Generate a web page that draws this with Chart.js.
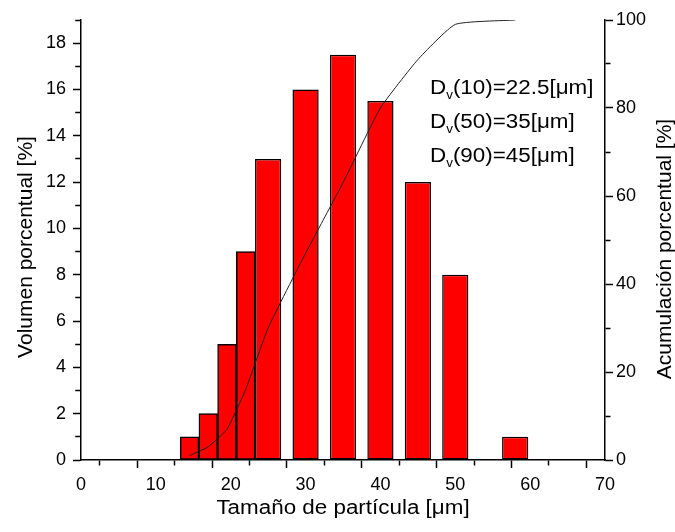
<!DOCTYPE html>
<html>
<head>
<meta charset="utf-8">
<script src="https://cdn.jsdelivr.net/npm/chart.js@4.4.1/dist/chart.umd.min.js"></script>
<style>
  html, body { margin: 0; padding: 0; background: #fff; }
  #wrap { width: 675px; height: 532px; }
</style>
</head>
<body>
<div id="wrap"><canvas id="psd" width="675" height="532"></canvas></div>
<script>
// Distribucion de tamano de particula (histograma + acumulada)
const fineSizes = [14.5, 17, 19.5, 22];
const fineVolume = [1, 2, 5, 9];
const coarseSizes = [25, 30, 35, 40, 45, 50, 58];
const coarseVolume = [13, 16, 17.5, 15.5, 12, 8, 1];

const cumSizes = [14.5, 17, 19.5, 22, 25, 30, 35, 40, 45, 50, 58];
const cumPercent = [1, 3, 7, 16, 30, 47, 63, 80, 91, 99, 100];

const dvPercentiles = ["10", "50", "90"];
const dvValues = ["22.5", "35", "45"];

const xTitle = "Tamaño de partícula [μm]";
const yTitle = "Volumen porcentual [%]";
const y2Title = "Acumulación porcentual [%]";

const FONT = '"Liberation Sans", Arial, sans-serif';
Chart.defaults.font.family = FONT;
Chart.defaults.color = "#000";

const toPoints = (xs, ys) => xs.map((x, i) => ({ x: x, y: ys[i] }));

// texto extra: titulos de ejes y anotaciones Dv
const extras = {
  id: "extras",
  afterDraw(chart) {
    const { ctx, chartArea: a } = chart;
    ctx.save();
    ctx.fillStyle = "#000";

    ctx.font = `21px ${FONT}`;
    ctx.textAlign = "center";
    ctx.textBaseline = "middle";
    ctx.save();
    ctx.translate(26, 247);
    ctx.rotate(-Math.PI / 2);
    ctx.fillText(yTitle, 0, 0);
    ctx.restore();

    ctx.save();
    ctx.translate(665, 249);
    ctx.rotate(-Math.PI / 2);
    ctx.fillText(y2Title, 0, 0);
    ctx.restore();

    ctx.save();
    ctx.translate((a.left + a.right) / 2, 508);
    ctx.scale(1.12, 1);
    ctx.font = `20px ${FONT}`;
    ctx.fillText(xTitle, 0, 0);
    ctx.restore();

    ctx.textAlign = "left";
    ctx.textBaseline = "alphabetic";
    dvPercentiles.forEach((p, i) => {
      ctx.save();
      ctx.translate(a.left + 349, a.top + 73.5 + i * 34);
      ctx.scale(1.12, 1);
      let x = 0;
      ctx.font = `20px ${FONT}`;
      ctx.fillText("D", x, 0);
      x += ctx.measureText("D").width;
      ctx.font = `12px ${FONT}`;
      ctx.fillText("v", x, 5);
      x += ctx.measureText("v").width;
      ctx.font = `20px ${FONT}`;
      ctx.fillText(`(${p})=${dvValues[i]}[μm]`, x, 0);
      ctx.restore();
    });
    ctx.restore();
  }
};

function minorDash(step, outerFirst) {
  return (c) => {
    if (!c.tick || c.tick.value % step === 0) return [];
    return outerFirst ? [5, 2.25] : [5, 20];
  };
}

const barStyle = {
  yAxisID: "y",
  backgroundColor: "#ff0000",
  borderColor: "#000",
  borderWidth: 1.5,
  borderSkipped: false,
  grouped: false,
  categoryPercentage: 1,
  order: 1
};

new Chart(document.getElementById("psd"), {
  type: "bar",
  data: {
    datasets: [
      {
        type: "line",
        label: "Acumulada",
        data: toPoints(cumSizes, cumPercent),
        yAxisID: "yR",
        borderColor: "#222",
        borderWidth: 1,
        pointRadius: 0,
        tension: 0.15,
        fill: false,
        order: 0
      },
      Object.assign({ label: "Volumen", data: toPoints(fineSizes, fineVolume), barPercentage: 1 }, barStyle),
      Object.assign({ label: "Volumen", data: toPoints(coarseSizes, coarseVolume), barPercentage: 1.4 }, barStyle)
    ]
  },
  options: {
    responsive: false,
    animation: false,
    devicePixelRatio: 1,
    layout: { padding: { top: 20, left: 0, right: 0, bottom: 0 } },
    plugins: { legend: { display: false }, tooltip: { enabled: false } },
    scales: {
      x: {
        type: "linear",
        position: "bottom",
        min: 0,
        max: 70,
        offset: false,
        afterFit: (s) => { s.height = 72; },
        border: { color: "#000", width: 1.5 },
        grid: {
          drawOnChartArea: false,
          tickLength: 8,
          tickColor: "#000",
          tickWidth: 1.5,
          tickBorderDash: minorDash(10, false)
        },
        ticks: {
          stepSize: 5,
          autoSkip: false,
          maxRotation: 0,
          padding: 6,
          font: { size: 18 },
          color: "#000",
          callback: (v) => (v % 10 === 0 ? v : "")
        }
      },
      y: {
        position: "left",
        min: 0,
        max: 19,
        afterFit: (s) => { s.width = 81; },
        border: { color: "#000", width: 1.5 },
        grid: {
          drawOnChartArea: false,
          tickLength: 8,
          tickColor: "#000",
          tickWidth: 1.5,
          tickBorderDash: minorDash(2, true),
          tickBorderDashOffset: (c) => (c.tick && c.tick.value % 2 !== 0 ? 5 : 0)
        },
        ticks: {
          stepSize: 1,
          autoSkip: false,
          padding: 7,
          font: { size: 18 },
          color: "#000",
          callback: (v) => (v % 2 === 0 ? v : "")
        }
      },
      yR: {
        position: "right",
        min: 0,
        max: 100,
        afterFit: (s) => { s.width = 70; },
        border: { color: "#000", width: 1.5 },
        grid: {
          drawOnChartArea: false,
          tickLength: 8,
          tickColor: "#000",
          tickWidth: 1.5,
          tickBorderDash: minorDash(20, false)
        },
        ticks: {
          stepSize: 10,
          autoSkip: false,
          padding: 3,
          font: { size: 18 },
          color: "#000",
          callback: (v) => (v % 20 === 0 ? v : "")
        }
      }
    }
  },
  plugins: [extras]
});
</script>
</body>
</html>
